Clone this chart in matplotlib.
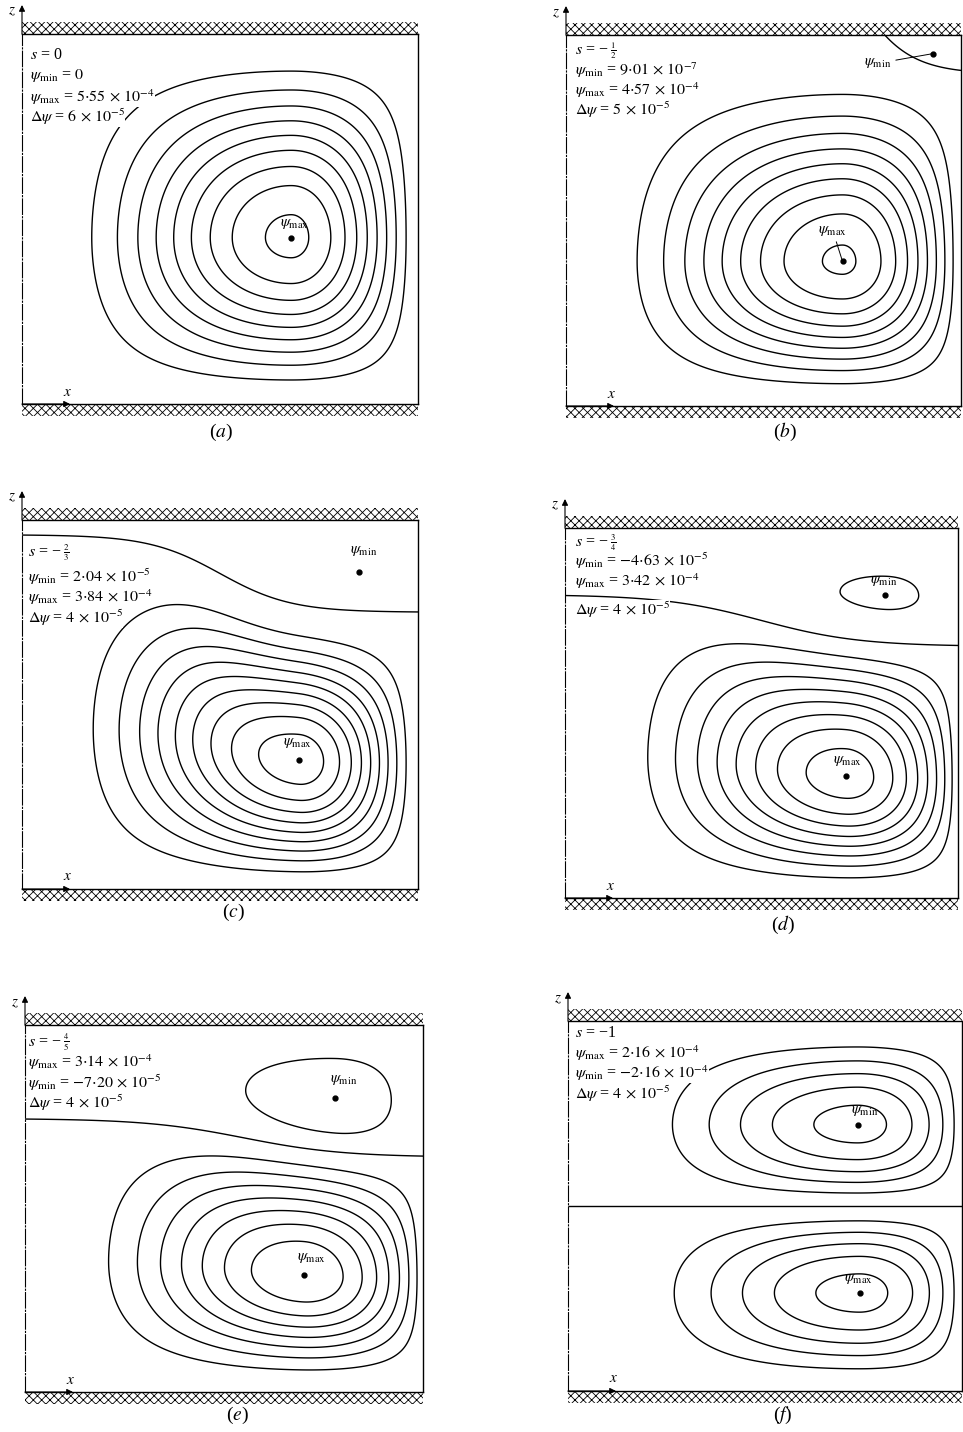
import numpy as np
import matplotlib
matplotlib.use("Agg")
import matplotlib.pyplot as plt
from matplotlib.patches import Rectangle

plt.rcParams["font.family"] = ["Liberation Serif", "DejaVu Serif"]
plt.rcParams["mathtext.fontset"] = "stix"
plt.rcParams["hatch.linewidth"] = 0.6

# ---- values ------------------------------------------------------------
panel_tags = ["a", "b", "c", "d", "e", "f"]
s_num = [0, -1, -2, -3, -4, -1]
s_den = [1, 2, 3, 4, 5, 1]
psi_max = [5.55e-4, 4.57e-4, 3.84e-4, 3.42e-4, 3.14e-4, 2.16e-4]
psi_min = [0.0, 9.01e-7, 2.04e-5, -4.63e-5, -7.20e-5, -2.16e-4]
d_psi = [6e-5, 5e-5, 4e-5, 4e-5, 4e-5, 4e-5]
max_first = [False, False, False, False, True, True]

# location of the extrema (fraction of gap width x, gap height z)
max_x = [0.68, 0.70, 0.70, 0.715, 0.70, 0.74]
max_z = [0.45, 0.39, 0.35, 0.33, 0.32, 0.265]
min_x = [None, 0.93, 0.85, 0.815, 0.78, 0.735]
min_z = [None, 0.95, 0.86, 0.82, 0.80, 0.72]

# dividing streamline: height at left, at right, centre and width of the drop
div_left = [None, 1.50, 0.96, 0.82, 0.745, 0.50]
div_right = [None, 0.895, 0.75, 0.68, 0.64, 0.50]
div_mid = [None, 0.69, 0.50, 0.50, 0.55, 0.50]
div_width = [None, 0.15, 0.18, 0.25, 0.25, 0.25]

# how fast psi falls off from the extremum: left, right, bottom, top
main_k = [(2.4, 1.16, 1.49, 1.76), (2.37, 0.98, 1.55, 2.42), (2.42, 1.22, 1.44, 1.93),
          (2.66, 0.86, 1.58, 1.36), (2.61, 0.81, 1.67, 1.32), (2.75, 0.80, 1.60, 1.27)]
upper_k = [None, None, None, (5.9, 0.51, 1.19, 1.51), (5.5, 0.95, 0.91, 1.40),
           (2.71, 0.79, 1.21, 1.76)]

# ---- layout (pixels in the 963 x 1432 picture) -------------------------
W, H = 963, 1432
boxes = [(22, 418, 34, 404), (566, 961, 35, 406), (22, 418, 520, 889),
         (565, 958, 528, 898), (25, 423, 1025, 1392), (568, 962, 1021, 1391)]
text_x = [30, 575, 28, 575, 28, 575]
text_y = [(55, 76, 97, 117), (50, 70, 90, 110), (552, 577, 597, 618),
          (542, 561, 581, 610), (1042, 1062, 1083, 1103), (1033, 1053, 1073, 1094)]
tag_pos = [(221, 432), (785, 432), (233, 912), (783, 925), (237, 1415), (783, 1415)]
max_off = [(2, 5), (-7, 17), (-1, 7), (1, 6), (6, 7), (-1, 5)]
min_off = [None, (-30, -7), (4, 10), (-1, 5), (6, 8), (5, 5)]
FS = 11.5


def sci(v):
    if v == 0:
        return "0"
    e = int(np.floor(np.log10(abs(v))))
    m = v / 10.0 ** e
    if abs(m - round(m)) < 1e-9:
        ms = "%d" % round(m)
    else:
        ms = ("%.2f" % m).replace(".", r"{\cdot}")
    return r"%s\,\times\,10^{%d}" % (ms, e)


def profile(u, uc, k_lo, k_hi):
    # 1 at uc, falling to 0 at u = 0 and u = 1
    t = np.where(u < uc, (uc - u) / uc, (u - uc) / (1 - uc))
    t = np.clip(t, 0, 1)
    k = np.where(u < uc, k_lo, k_hi)
    return np.cos(0.5 * np.pi * t) ** k


def divider(x, i):
    if div_left[i] is None:
        return np.ones_like(x)
    return div_right[i] + (div_left[i] - div_right[i]) * 0.5 * (
        1 - np.tanh((x - div_mid[i]) / div_width[i]))


fig = plt.figure(figsize=(W / 100, H / 100), dpi=100)
xg = np.linspace(0, 1, 601)
X, Z = np.meshgrid(xg, xg)

for i, tag in enumerate(panel_tags):
    l, r, t, b = boxes[i]
    ax = fig.add_axes([l / W, 1 - b / H, (r - l) / W, (b - t) / H])
    ax.set_xlim(0, 1)
    ax.set_ylim(0, 1)
    ax.set_xticks([])
    ax.set_yticks([])
    for sp in ax.spines.values():
        sp.set_linewidth(1.0)
    ax.spines["left"].set_linestyle((0, (14, 2, 1, 2)))
    ax.spines["left"].set_linewidth(0.8)
    hb = 12 / (b - t)
    for y0 in (1, -hb):
        ax.add_patch(Rectangle((0, y0), 1, hb, transform=ax.transAxes, fill=False,
                               hatch="xxxx", edgecolor="k", lw=0, clip_on=False))

    # stream function of the main (lower) cell
    Hd = divider(X, i)
    if div_left[i] is not None and div_left[i] <= 1:
        Hc = Hd
        hc = divider(np.array(max_x[i]), i)
    else:
        Hc = np.ones_like(X)
        hc = 1.0
    ec = max_z[i] / hc
    eta = np.clip(Z / Hc, 0, 1)
    kl, kr, kb, kt = main_k[i]
    psi_low = psi_max[i] * profile(X, max_x[i], kl, kr) * profile(eta, ec, kb, kt)
    psi_low[Z >= Hc] = 0
    n = int(np.floor(psi_max[i] / d_psi[i] - 1e-6))
    ax.contour(X, Z, psi_low, levels=d_psi[i] * np.arange(1, n + 1),
               colors="k", linewidths=1.0, linestyles="solid")

    # upper (reversed) cell
    if upper_k[i] is not None:
        hm = divider(np.array(min_x[i]), i)
        zc = (min_z[i] - hm) / (1 - hm)
        zeta = np.clip((Z - Hd) / (1 - Hd), 0, 1)
        kl, kr, kb, kt = upper_k[i]
        psi_up = psi_min[i] * profile(X, min_x[i], kl, kr) * profile(zeta, zc, kb, kt)
        psi_up[Z <= Hd] = 0
        m = int(np.floor(-psi_min[i] / d_psi[i] - 1e-6))
        ax.contour(X, Z, psi_up, levels=-d_psi[i] * np.arange(m, 0, -1),
                   colors="k", linewidths=1.0, linestyles="solid")

    if div_left[i] is not None:
        ax.contour(X, Z, Z - Hd, levels=[0], colors="k", linewidths=1.0)

    # extrema
    ax.plot(max_x[i], max_z[i], "o", color="k", ms=3.5)
    lead = dict(arrowstyle="-", lw=0.7, shrinkA=1, shrinkB=1) if i == 1 else None
    ax.annotate(r"$\psi_{\rm max}$", xy=(max_x[i], max_z[i]), xytext=max_off[i],
                textcoords="offset points", ha="center", va="bottom", fontsize=11,
                arrowprops=lead)
    if min_x[i] is not None:
        ax.plot(min_x[i], min_z[i], "o", color="k", ms=3.5)
        ax.annotate(r"$\psi_{\rm min}$", xy=(min_x[i], min_z[i]), xytext=min_off[i],
                    textcoords="offset points", ha="center" if i != 1 else "right",
                    va="bottom" if i != 1 else "center", fontsize=11, arrowprops=lead)

    # axes arrows
    ax.annotate("", xy=(l / W, 1 - (t - 29) / H), xytext=(l / W, 1 - t / H),
                xycoords="figure fraction", textcoords="figure fraction",
                arrowprops=dict(arrowstyle="-|>", lw=0.8, color="k", mutation_scale=9,
                                shrinkA=0, shrinkB=0), annotation_clip=False)
    fig.text((l - 10) / W, 1 - (t - 22) / H, r"$z$", fontsize=11, ha="center", va="center")
    ax.annotate("", xy=((l + 48) / W, 1 - b / H), xytext=(l / W, 1 - b / H),
                xycoords="figure fraction", textcoords="figure fraction",
                arrowprops=dict(arrowstyle="-|>", lw=0.8, color="k", mutation_scale=9,
                                shrinkA=0, shrinkB=0), annotation_clip=False)
    fig.text((l + 46) / W, 1 - (b - 12) / H, r"$x$", fontsize=11, ha="center", va="center")

    # parameter block
    box = dict(facecolor="white", edgecolor="none", pad=0)
    if s_den[i] == 1:
        s_txt = r"$s$ = " + ("\u2212%d" % -s_num[i] if s_num[i] < 0 else "%d" % s_num[i])
    else:
        s_txt = r"$s$ = " + ("\u2212" if s_num[i] < 0 else "")
    st = fig.text(text_x[i] / W, 1 - text_y[i][0] / H, s_txt, fontsize=FS,
                  ha="left", va="center", bbox=box)
    if s_den[i] > 1:
        ax.annotate(r"$\frac{%d}{%d}$" % (abs(s_num[i]), s_den[i]), xy=(1, 0.45),
                    xycoords=st, xytext=(1, 0), textcoords="offset points",
                    fontsize=9, ha="left", va="center")
    line_min = r"$\psi_{\rm min}$ = $%s$" % sci(psi_min[i])
    line_max = r"$\psi_{\rm max}$ = $%s$" % sci(psi_max[i])
    block = [line_max, line_min] if max_first[i] else [line_min, line_max]
    block.append(r"$\Delta\psi$ = $%s$" % sci(d_psi[i]))
    for txt, yy in zip(block, text_y[i][1:]):
        fig.text(text_x[i] / W, 1 - yy / H, txt, fontsize=FS, ha="left", va="center",
                 bbox=box)

    fig.text(tag_pos[i][0] / W, 1 - tag_pos[i][1] / H, r"(${%s}$)" % tag,
             fontsize=14, ha="center", va="center")

fig.savefig("out.png", dpi=100)
